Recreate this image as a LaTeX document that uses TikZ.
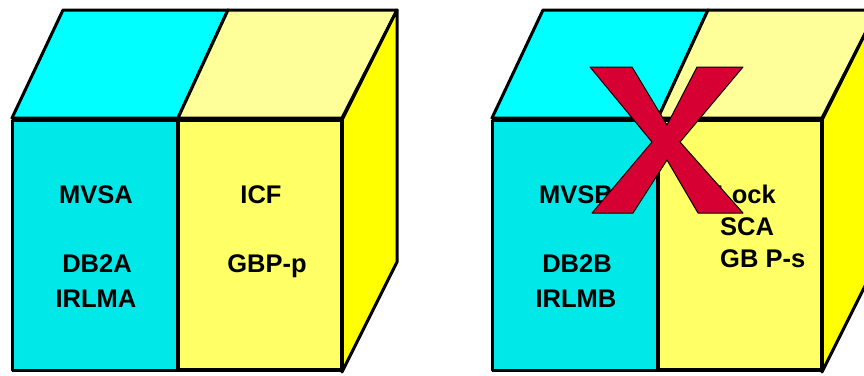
\documentclass[tikz,border=0pt]{standalone}
\usepackage{fontspec}
\setmainfont{Liberation Sans}
\usetikzlibrary{positioning}
\definecolor{cyantop}{RGB}{0,255,255}
\definecolor{cyanfront}{RGB}{0,232,232}
\definecolor{yellowtop}{RGB}{255,255,153}
\definecolor{yellowfront}{RGB}{255,255,102}
\definecolor{yellowside}{RGB}{255,255,0}
\definecolor{crossred}{RGB}{215,0,50}
\begin{document}
\begin{tikzpicture}[x=1pt, y=-1pt,
    face/.style={draw, line width=3pt, line join=round},
    front/.style={draw, line width=4.5pt, line join=miter},
    label/.style={font=\fontsize{25.5}{30}\selectfont\bfseries, inner sep=0pt, anchor=base}]
    \fill[white] (0,0) rectangle (864,375);
    \clip (0,0) rectangle (864,375);

    % left cube
    \filldraw[face, fill=cyantop] (12,118) -- (63,10) -- (228,10) -- (178,118) -- cycle;
    \filldraw[face, fill=yellowtop] (178,118) -- (228,10) -- (397,10) -- (342,118) -- cycle;
    \filldraw[face, fill=yellowside] (342,120) -- (397,10) -- (397,262) -- (342,372) -- cycle;
    \filldraw[face, fill=cyanfront] (12,120) rectangle (178,370);
    \filldraw[front, fill=yellowfront] (178,120) rectangle (342,370);

    \node[label] (mvsa) at (96,203) {MVSA};
    \node[label] (dbtwoa) at (97,272) {DB2A};
    \node[label] (irlma) at (96,307) {IRLMA};
    \node[label] (icf) at (261,203) {ICF};
    \node[label] (gbpp) at (267,272) {GBP-p};

    % right cube
    \filldraw[face, fill=cyantop] (492,118) -- (543,10) -- (708,10) -- (658,118) -- cycle;
    \filldraw[face, fill=yellowtop] (658,118) -- (708,10) -- (877,10) -- (822,118) -- cycle;
    \filldraw[face, fill=yellowside] (822,120) -- (877,10) -- (877,262) -- (822,372) -- cycle;
    \filldraw[face, fill=cyanfront] (492,120) rectangle (658,370);
    \filldraw[front, fill=yellowfront] (658,120) rectangle (822,370);

    \node[label] (mvsb) at (576,203) {MVSB};
    \node[label] (dbtwob) at (577,272) {DB2B};
    \node[label] (irlmb) at (576,307) {IRLMB};
    \node[label, anchor=base west] (lock) at (716,203) {Lock};
    \node[label, anchor=base west] (sca) at (720,235) {SCA};
    \node[label, anchor=base west] (gbps) at (720,267) {GB P-s};

    % the cross
    \filldraw[fill=crossred, draw=black, line width=1pt, line join=round]
        (590,67) -- (632,67) -- (667,125) -- (697,67) -- (743,67) -- (680,142)
        -- (743,213) -- (698,213) -- (667,160) -- (633,213) -- (592,213) -- (652,142) -- cycle;
\end{tikzpicture}
\end{document}
